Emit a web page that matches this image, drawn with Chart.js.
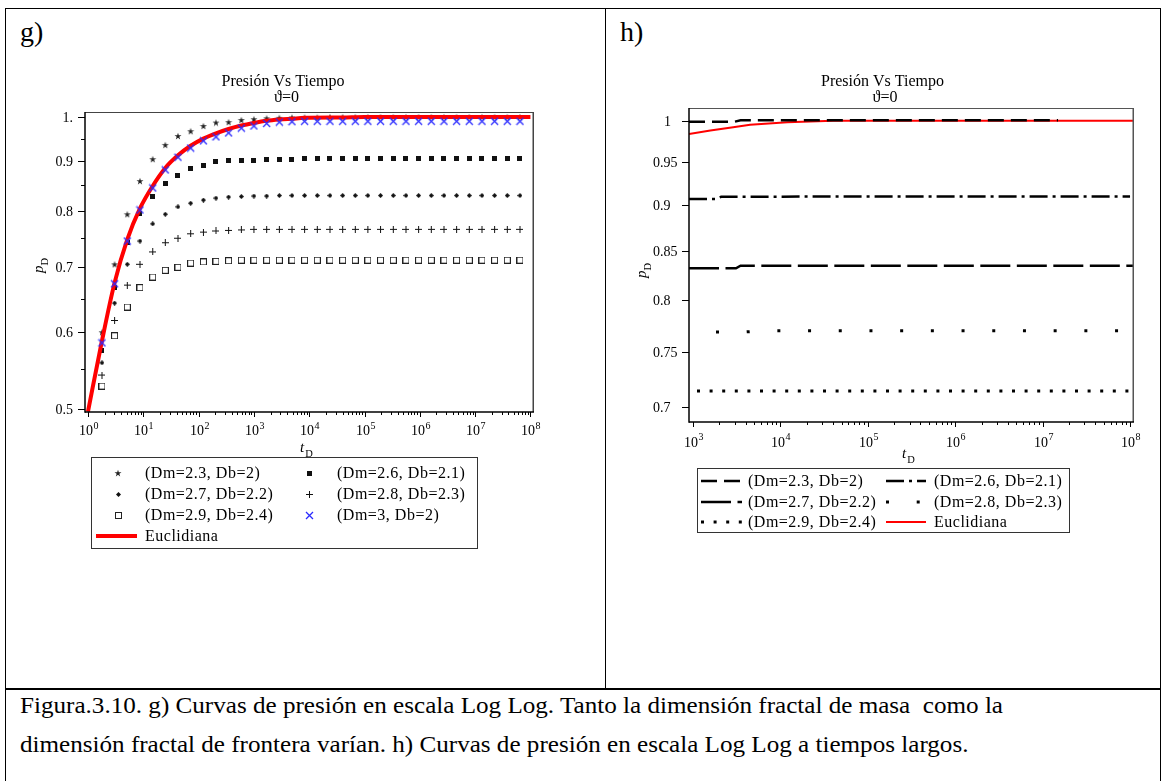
<!DOCTYPE html>
<html>
<head>
<meta charset="utf-8">
<script src="https://cdn.jsdelivr.net/npm/chart.js@4.4.1/dist/chart.umd.min.js"></script>
<style>
  html, body { margin: 0; padding: 0; background: #fff; }
  body { width: 1162px; height: 781px; position: relative; overflow: hidden;
         font-family: "Liberation Serif", "Times New Roman", serif; color: #000; }
  .rule { position: absolute; background: #000; }
  .tag { position: absolute; font-size: 28px; line-height: 1; }
  .cap { position: absolute; left: 20px; font-size: 24px; line-height: 1; white-space: pre;
         display: inline-block; transform-origin: 0 0; }
  canvas { position: absolute; top: 0; }
</style>
</head>
<body>
<div class="rule" style="left:5px;top:8px;width:1156px;height:1px"></div>
<div class="rule" style="left:5px;top:8px;width:1px;height:780px"></div>
<div class="rule" style="left:1160px;top:8px;width:1px;height:780px"></div>
<div class="rule" style="left:605px;top:8px;width:1px;height:681px"></div>
<div class="rule" style="left:5px;top:688px;width:1156px;height:2px"></div>
<div class="tag" style="left:20px;top:18px">g)</div>
<div class="tag" style="left:620px;top:18px">h)</div>
<span class="cap" style="top:693px">Figura.3.10. g) Curvas de presión en escala Log Log. Tanto la dimensión fractal de masa  como la</span>
<span class="cap" style="top:732px">dimensión fractal de frontera varían. h) Curvas de presión en escala Log Log a tiempos largos.</span>
<canvas id="chartG" width="604" height="620" style="left:0"></canvas>
<canvas id="chartH" width="554" height="620" style="left:606px"></canvas>
<script>
// ---- g) dimensionless pressure vs time, early to late time ----
const tD = [1.79, 3.03, 5.14, 8.71, 14.8, 25.0, 42.4, 71.8, 122, 206, 349, 592, 1000, 1700, 2880, 4880, 8260,
  1.40e4, 2.37e4, 4.02e4, 6.81e4, 1.15e5, 1.95e5, 3.31e5, 5.61e5, 9.51e5, 1.61e6, 2.73e6, 4.62e6, 7.83e6,
  1.33e7, 2.25e7, 3.81e7, 6.46e7];
const pD_23_20 = [0.600, 0.705, 0.794, 0.859, 0.905, 0.936, 0.956, 0.967, 0.979, 0.987, 0.988, 0.993, 0.995,
  0.997, 0.998, 0.999, 0.999, 0.999, 1.000, 1.000, 1.000, 1.000, 1.000, 1.000, 1.000, 1.000, 1.000, 1.000,
  1.000, 1.000, 1.000, 1.000, 1.000, 1.000];
const pD_26_21 = [0.575, 0.668, 0.742, 0.796, 0.829, 0.855, 0.871, 0.884, 0.892, 0.899, 0.901, 0.902, 0.903,
  0.904, 0.905, 0.905, 0.907, 0.907, 0.907, 0.907, 0.907, 0.907, 0.907, 0.907, 0.907, 0.907, 0.907, 0.907,
  0.907, 0.907, 0.907, 0.907, 0.907, 0.907];
const pD_27_22 = [0.558, 0.643, 0.705, 0.745, 0.776, 0.794, 0.808, 0.815, 0.821, 0.825, 0.827, 0.828, 0.829,
  0.829, 0.830, 0.830, 0.830, 0.830, 0.830, 0.830, 0.830, 0.830, 0.830, 0.830, 0.830, 0.830, 0.830, 0.830,
  0.830, 0.830, 0.830, 0.830, 0.830, 0.830];
const pD_28_23 = [0.542, 0.617, 0.671, 0.705, 0.726, 0.742, 0.750, 0.758, 0.761, 0.763, 0.764, 0.765, 0.766,
  0.766, 0.766, 0.766, 0.766, 0.766, 0.766, 0.766, 0.766, 0.766, 0.766, 0.766, 0.766, 0.766, 0.766, 0.766,
  0.766, 0.766, 0.766, 0.766, 0.766, 0.766];
const pD_29_24 = [0.528, 0.595, 0.637, 0.667, 0.684, 0.695, 0.700, 0.707, 0.709, 0.710, 0.711, 0.712, 0.712,
  0.712, 0.712, 0.712, 0.712, 0.712, 0.712, 0.712, 0.712, 0.712, 0.712, 0.712, 0.712, 0.712, 0.712, 0.712,
  0.712, 0.712, 0.712, 0.712, 0.712, 0.712];
const pD_30_20 = [0.585, 0.673, 0.745, 0.802, 0.845, 0.882, 0.909, 0.929, 0.945, 0.954, 0.963, 0.974, 0.979,
  0.985, 0.988, 0.989, 0.990, 0.990, 0.990, 0.990, 0.990, 0.990, 0.990, 0.990, 0.990, 0.990, 0.990, 0.990,
  0.990, 0.990, 0.990, 0.990, 0.990, 0.990];
// euclidean reservoir solution
const tEuc = [1, 1.79, 3.03, 5.14, 8.71, 14.8, 25.0, 42.4, 71.8, 122, 206, 349, 592, 1000, 1700, 2880, 4880,
  8260, 4.02e4, 1.0e5, 1.0e8];
const pEuc = [0.497, 0.588, 0.675, 0.748, 0.805, 0.849, 0.886, 0.913, 0.934, 0.950, 0.962, 0.972, 0.980,
  0.986, 0.991, 0.994, 0.996, 0.998, 0.999, 1.000, 1.000];

// ---- h) late time ----
const tH_23_20 = [900, 3000, 3500, 1.5e7];
const pH_23_20 = [0.9988, 0.9988, 1.0005, 1.0005];
const tH_26_21 = [900, 1800, 2100, 1.0e5, 1.0e8];
const pH_26_21 = [0.907, 0.907, 0.9095, 0.910, 0.910];
const tH_27_22 = [900, 3100, 3500, 1.11e8];
const pH_27_22 = [0.832, 0.832, 0.8347, 0.8347];
const tH_28_23 = [900, 4000, 6000, 1.0e8];
const pH_28_23 = [0.7686, 0.7686, 0.7697, 0.7697];
const tH_29_24 = [900, 1.0e8];
const pH_29_24 = [0.714, 0.714];
const tH_euc = [900, 1580, 2880, 4500, 1.2e4, 4.0e4, 1.11e8];
const pH_euc = [0.9835, 0.988, 0.992, 0.995, 0.998, 1.000, 1.000];

const seriesNames = ['(Dm=2.3, Db=2)', '(Dm=2.6, Db=2.1)', '(Dm=2.7, Db=2.2)', '(Dm=2.8, Db=2.3)',
  '(Dm=2.9, Db=2.4)', '(Dm=3, Db=2)', 'Euclidiana'];

// axis ticks
const yTicksG = [0.5, 0.6, 0.7, 0.8, 0.9, 1];
const yTextG = ['0.5', '0.6', '0.7', '0.8', '0.9', '1.'];
const yMinorG = [0.55, 0.65, 0.75, 0.85, 0.95];
const xExpG = [0, 1, 2, 3, 4, 5, 6, 7, 8];
const yTicksH = [0.7, 0.75, 0.8, 0.85, 0.9, 0.95, 1];
const yTextH = ['0.7', '0.75', '0.8', '0.85', '0.9', '0.95', '1'];
const xExpH = [3, 4, 5, 6, 7, 8];

const SERIF = '"Liberation Serif", "DejaVu Serif", serif';
const RED = '#ff0000', BLUE = '#2a2aff';

const xy = (ts, ps) => ts.map((t, i) => ({ x: t, y: ps[i] }));

// small bitmap markers
function markCanvas(size, paint) {
  const c = document.createElement('canvas');
  c.width = size; c.height = size;
  paint(c.getContext('2d'), size);
  return c;
}
const mkStar = markCanvas(8, (ctx, s) => {
  ctx.beginPath();
  for (let i = 0; i < 10; i++) {
    const r = i % 2 ? 1.4 : 3.7, a = -Math.PI / 2 + i * Math.PI / 5;
    ctx.lineTo(s / 2 + r * Math.cos(a), s / 2 + 0.4 + r * Math.sin(a));
  }
  ctx.closePath(); ctx.fillStyle = '#222'; ctx.fill();
});
const mkBox = markCanvas(5, ctx => { ctx.fillStyle = '#111'; ctx.fillRect(0, 0, 5, 5); });
const mkDot = markCanvas(5, ctx => {
  ctx.fillStyle = '#111';
  ctx.beginPath(); ctx.moveTo(2.5, 0); ctx.lineTo(5, 2.5); ctx.lineTo(2.5, 5); ctx.lineTo(0, 2.5);
  ctx.closePath(); ctx.fill();
});
const mkPlus = markCanvas(7, ctx => { ctx.fillStyle = '#111'; ctx.fillRect(3, 0, 1, 7); ctx.fillRect(0, 3, 7, 1); });
const mkOpen = markCanvas(7, ctx => { ctx.strokeStyle = '#222'; ctx.lineWidth = 1; ctx.strokeRect(0.5, 0.5, 6, 6); });
const mkCross = markCanvas(9, ctx => {
  ctx.strokeStyle = BLUE; ctx.lineWidth = 1.3;
  ctx.beginPath(); ctx.moveTo(1, 1); ctx.lineTo(8, 8); ctx.moveTo(8, 1); ctx.lineTo(1, 8); ctx.stroke();
});

// frame, ticks, titles and legend drawn against the chart's own scales
function axisFrame(spec) {
  return {
    id: 'axisFrame',
    afterDatasetsDraw(chart) {
      const { ctx, chartArea: a, scales: { x, y } } = chart;
      const ox = spec.ox;
      const px = v => x.getPixelForValue(v) + ox;
      const py = v => y.getPixelForValue(v);
      const L = a.left + ox, R = a.right + ox, T = a.top, B = a.bottom;
      const line = (x1, y1, x2, y2) => { ctx.beginPath(); ctx.moveTo(x1, y1); ctx.lineTo(x2, y2); ctx.stroke(); };

      ctx.save();
      ctx.translate(-ox, 0);
      ctx.strokeStyle = spec.boxColor; ctx.lineWidth = 1;
      line(L, T + 0.5, R, T + 0.5);
      ctx.lineWidth = 1.5;
      line(R - 0.75, T, R - 0.75, B);
      ctx.strokeStyle = '#000'; ctx.lineWidth = 1.5;
      line(L, T, L, B + 0.75);
      line(L, B, R, B);

      // y axis
      ctx.lineWidth = 1;
      ctx.fillStyle = '#000';
      ctx.font = '14px ' + SERIF;
      ctx.textBaseline = 'middle';
      spec.yTicks.forEach((v, i) => {
        const yy = Math.round(py(v)) + 0.5;
        line(L - 7, yy, L, yy);
        const [lx, al] = spec.yLabelPos(spec.yText[i], L);
        ctx.textAlign = al;
        ctx.fillText(spec.yText[i], lx, yy + 0.5);
      });
      (spec.yMinor || []).forEach(v => {
        const yy = Math.round(py(v)) + 0.5;
        line(L - 4, yy, L, yy);
      });

      // x axis, decades with minor ticks
      ctx.textAlign = 'left';
      ctx.textBaseline = 'alphabetic';
      spec.xExp.forEach((e, i) => {
        const xx = Math.round(px(Math.pow(10, e))) + 0.5;
        line(xx, B, xx, B + 5);
        if (i < spec.xExp.length - 1) {
          for (let m = 2; m <= 9; m++) {
            const mx = Math.round(px(m * Math.pow(10, e))) + 0.5;
            line(mx, B, mx, B + 3);
          }
        }
        ctx.font = '14px ' + SERIF;
        const w1 = ctx.measureText('10').width;
        ctx.font = '10px ' + SERIF;
        const sup = String(e);
        const w2 = ctx.measureText(sup).width;
        const x0 = xx - (w1 + w2) / 2;
        ctx.font = '14px ' + SERIF;
        ctx.fillText('10', x0, spec.xLabelBase);
        ctx.font = '10px ' + SERIF;
        ctx.fillText(sup, x0 + w1 + 0.5, spec.xLabelBase - 6.5);
      });

      // axis titles: t_D and p_D
      ctx.font = 'italic 15px ' + SERIF;
      ctx.fillText('t', spec.tTitle[0], spec.tTitle[1]);
      const wt = ctx.measureText('t').width;
      ctx.font = '10.5px ' + SERIF;
      ctx.fillText('D', spec.tTitle[0] + wt + 1, spec.tTitle[1] + 5);

      ctx.save();
      ctx.translate(spec.pTitle[0], spec.pTitle[1]);
      ctx.rotate(-Math.PI / 2);
      ctx.font = 'italic 15px ' + SERIF;
      ctx.fillText('p', 0, 0);
      const wp = ctx.measureText('p').width;
      ctx.font = '10.5px ' + SERIF;
      ctx.fillText('D', wp, 5);
      ctx.restore();

      // plot title
      ctx.textAlign = 'center';
      ctx.font = '16px ' + SERIF;
      ctx.fillText('Presión Vs Tiempo', spec.title[0], spec.title[1]);
      ctx.fillText('ϑ=0', spec.title[2], spec.title[3]);

      // legend box
      const lg = spec.legend;
      ctx.strokeStyle = '#333'; ctx.lineWidth = 1;
      ctx.strokeRect(lg.box[0] + 0.5, lg.box[1] + 0.5, lg.box[2] - lg.box[0], lg.box[3] - lg.box[1]);
      ctx.textAlign = 'left';
      ctx.textBaseline = 'middle';
      lg.items.forEach(([di, col, row]) => {
        const ds = chart.data.datasets[di];
        const c = lg.cols[col], yy = lg.rows[row];
        if (ds.showLine) {
          ctx.save();
          ctx.strokeStyle = ds.borderColor;
          ctx.lineWidth = ds.borderWidth;
          ctx.setLineDash(ds.borderDash || []);
          ctx.lineDashOffset = 0;
          line(c.line[0], yy, c.line[1], yy);
          ctx.restore();
        } else {
          const img = ds.pointStyle;
          ctx.drawImage(img, Math.round(c.mark - img.width / 2), Math.round(yy - img.height / 2));
        }
        ctx.font = '16px ' + SERIF;
        if ('letterSpacing' in ctx) ctx.letterSpacing = '0.5px';
        ctx.fillText(ds.label, c.text, yy + 0.5);
        if ('letterSpacing' in ctx) ctx.letterSpacing = '0px';
      });
      ctx.restore();
    }
  };
}

function markers(label, ts, ps, img) {
  return { label, data: xy(ts, ps), pointStyle: img, pointRadius: 4, showLine: false };
}

const baseOptions = (pad, xr, yr) => ({
  responsive: false,
  animation: false,
  events: [],
  layout: { padding: pad },
  plugins: { legend: { display: false }, tooltip: { enabled: false } },
  scales: {
    x: { type: 'logarithmic', display: false, min: xr[0], max: xr[1] },
    y: { type: 'logarithmic', display: false, min: yr[0], max: yr[1] }
  }
});

// g)
new Chart(document.getElementById('chartG'), {
  type: 'scatter',
  data: {
    datasets: [
      markers(seriesNames[5], tD, pD_30_20, mkCross),
      { label: seriesNames[6], data: xy(tEuc, pEuc), showLine: true, borderColor: RED, borderWidth: 4,
        pointRadius: 0, cubicInterpolationMode: 'monotone' },
      markers(seriesNames[0], tD, pD_23_20, mkStar),
      markers(seriesNames[1], tD, pD_26_21, mkBox),
      markers(seriesNames[2], tD, pD_27_22, mkDot),
      markers(seriesNames[3], tD, pD_28_23, mkPlus),
      markers(seriesNames[4], tD, pD_29_24, mkOpen)
    ]
  },
  options: baseOptions({ left: 85, top: 112, right: 70, bottom: 208 }, [0.883, 1.16e8], [0.4965, 1.012]),
  plugins: [axisFrame({
    ox: 0,
    boxColor: '#444',
    yTicks: yTicksG, yText: yTextG, yMinor: yMinorG,
    yLabelPos: (txt, L) => [L - 12, 'right'],
    xExp: xExpG, xLabelBase: 435,
    tTitle: [300, 452], pTitle: [43, 273],
    title: [283, 85.5, 286.5, 102],
    legend: {
      box: [91, 457, 477, 548],
      rows: [473, 494, 515, 536],
      cols: [{ mark: 118, text: 145, line: [96, 137] }, { mark: 309, text: 337, line: [286, 327] }],
      items: [[2, 0, 0], [3, 1, 0], [4, 0, 1], [5, 1, 1], [6, 0, 2], [0, 1, 2], [1, 0, 3]]
    }
  })]
});

// h)
const lineSet = (label, ts, ps, dash, offset, color, width) => ({
  label, data: xy(ts, ps), showLine: true, pointRadius: 0, borderColor: color || '#000',
  borderWidth: width || 2.5, borderDash: dash, borderDashOffset: offset || 0, borderCapStyle: 'butt'
});
new Chart(document.getElementById('chartH'), {
  type: 'scatter',
  data: {
    datasets: [
      lineSet(seriesNames[0], tH_23_20, pH_23_20, [16, 7]),
      lineSet(seriesNames[1], tH_26_21, pH_26_21, [18, 5, 3, 5]),
      lineSet(seriesNames[2], tH_27_22, pH_27_22, [30, 6.5]),
      lineSet(seriesNames[3], tH_28_23, pH_28_23, [3, 27.7], 3.7, '#000', 3),
      lineSet(seriesNames[4], tH_29_24, pH_29_24, [3, 9.6], 4.6, '#000', 3),
      lineSet(seriesNames[6], tH_euc, pH_euc, [], 0, RED, 2)
    ]
  },
  options: baseOptions({ left: 83, top: 108, right: 26, bottom: 198 }, [900, 1.11e8], [0.687, 1.016]),
  plugins: [axisFrame({
    ox: 606,
    boxColor: '#555',
    yTicks: yTicksH, yText: yTextH, yMinor: [],
    yLabelPos: (txt, L) => txt.includes('.') ? [L - 36, 'left'] : [L - 18, 'right'],
    xExp: xExpH, xLabelBase: 446.5,
    tTitle: [902, 458], pTitle: [646, 278],
    title: [882.5, 85.5, 885, 102],
    legend: {
      box: [697, 468, 1069, 532],
      rows: [481, 502, 522],
      cols: [{ mark: 720, text: 748, line: [701, 742] }, { mark: 906, text: 934, line: [886, 926] }],
      items: [[0, 0, 0], [1, 1, 0], [2, 0, 1], [3, 1, 1], [4, 0, 2], [5, 1, 2]]
    }
  })]
});

// caption lines share one horizontal condensing factor
const caps = document.querySelectorAll('.cap');
const k = 983 / caps[0].getBoundingClientRect().width;
caps.forEach(c => { c.style.transform = 'scaleX(' + k + ')'; });
</script>
</body>
</html>
